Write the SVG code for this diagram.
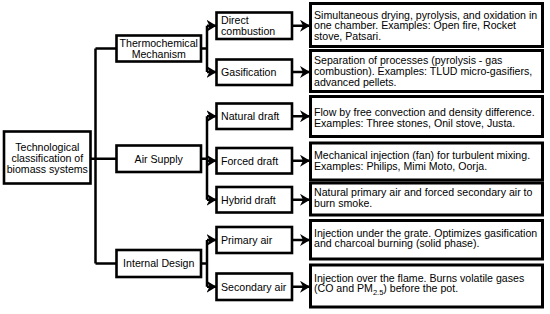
<svg xmlns="http://www.w3.org/2000/svg" width="550" height="314" viewBox="0 0 550 314">
<style>
text{font-family:"Liberation Sans",Arial,sans-serif;font-size:10.6px;fill:#000}
.box{fill:#fff;stroke:#000;stroke-width:2.6}
.dbox{fill:#fff;stroke:#000;stroke-width:3}
.c{text-anchor:middle}
.ln{fill:none;stroke:#000;stroke-width:2.5}
</style>
<defs>
<marker id="ar" markerUnits="userSpaceOnUse" markerWidth="10" markerHeight="12" viewBox="0 0 10 12" refX="10" refY="6" orient="auto">
<path d="M0,0 L10,6 L0,12 L3,6 Z" fill="#000"/>
</marker>
</defs>
<rect width="550" height="314" fill="#fff"/>
<g id="connectors">
<path class="ln" d="M90.5,158.75 H95.5 M95.5,48.5 V263.5 M95.5,48.5 H116.5 M95.5,158.75 H116.5 M95.5,263.5 H116.5"/>
<path class="ln" d="M201,48.5 H207 M207,25.75 V72 M201,158.75 H207 M207,116.25 V199.75 M201,263.5 H207 M207,240 V286.75"/>
<g marker-end="url(#ar)" class="ln">
<path d="M207,25.75 H216.5"/>
<path d="M207,72 H216.5"/>
<path d="M207,116.25 H216.5"/>
<path d="M207,160.75 H216.5"/>
<path d="M207,199.75 H216.5"/>
<path d="M207,240 H216.5"/>
<path d="M207,286.75 H216.5"/>
<path d="M292,25.75 H310"/>
<path d="M292,72 H310"/>
<path d="M292,116.25 H310"/>
<path d="M292,160.75 H310"/>
<path d="M292,199.75 H310"/>
<path d="M292,240 H310"/>
<path d="M292,286.75 H310"/>
</g>
</g>
<g id="root">
<rect class="box" x="4" y="131.5" width="86.5" height="52"/>
<text class="c" x="47.3" y="150.5">Technological</text>
<text class="c" x="47.3" y="161.8">classification of</text>
<text class="c" x="47.3" y="173.1">biomass systems</text>
</g>
<g id="thermochemical">
<rect class="box" x="116.5" y="35.5" width="84.5" height="26"/>
<text class="c" x="158.75" y="47">Thermochemical</text>
<text class="c" x="158.75" y="57.5">Mechanism</text>
</g>
<g id="airsupply">
<rect class="box" x="116.5" y="145.5" width="84.5" height="26.5"/>
<text class="c" x="158.75" y="162.6">Air Supply</text>
</g>
<g id="internaldesign">
<rect class="box" x="116.5" y="250" width="84.5" height="27"/>
<text class="c" x="158.75" y="267.3">Internal Design</text>
</g>
<g id="direct">
<rect class="box" x="216.5" y="12.5" width="75.5" height="26.5"/>
<text x="221" y="23.5">Direct</text>
<text x="221" y="34.6">combustion</text>
</g>
<g id="gasification">
<rect class="box" x="216.5" y="59.5" width="75.5" height="25.5"/>
<text x="221" y="75.8">Gasification</text>
</g>
<g id="natural">
<rect class="box" x="216.5" y="103.5" width="75.5" height="25.5"/>
<text x="221" y="120">Natural draft</text>
</g>
<g id="forced">
<rect class="box" x="216.5" y="148" width="75.5" height="25.5"/>
<text x="221" y="164.5">Forced draft</text>
</g>
<g id="hybrid">
<rect class="box" x="216.5" y="187" width="75.5" height="25.5"/>
<text x="221" y="203.5">Hybrid draft</text>
</g>
<g id="primary">
<rect class="box" x="216.5" y="227" width="75.5" height="26"/>
<text x="221" y="243.8">Primary air</text>
</g>
<g id="secondary">
<rect class="box" x="216.5" y="273.5" width="75.5" height="26.5"/>
<text x="221" y="290.5">Secondary air</text>
</g>
<g id="desc1">
<rect class="dbox" x="310.5" y="3.5" width="232" height="43"/>
<text x="314" y="18.5">Simultaneous drying, pyrolysis, and oxidation in</text>
<text x="314" y="29.3">one chamber. Examples: Open fire, Rocket</text>
<text x="314" y="40.1">stove, Patsari.</text>
</g>
<g id="desc2">
<rect class="dbox" x="310.5" y="50.5" width="232" height="41"/>
<text x="314" y="64">Separation of processes (pyrolysis - gas</text>
<text x="314" y="74.8">combustion). Examples: TLUD micro-gasifiers,</text>
<text x="314" y="85.6">advanced pellets.</text>
</g>
<g id="desc3">
<rect class="dbox" x="310.5" y="96.5" width="232" height="40"/>
<text x="314" y="116.2">Flow by free convection and density difference.</text>
<text x="314" y="127">Examples: Three stones, Onil stove, Justa.</text>
</g>
<g id="desc4">
<rect class="dbox" x="310.5" y="143" width="232" height="37"/>
<text x="314" y="159.3">Mechanical injection (fan) for turbulent mixing.</text>
<text x="314" y="170.1">Examples: Philips, Mimi Moto, Oorja.</text>
</g>
<g id="desc5">
<rect class="dbox" x="310.5" y="183" width="232" height="32"/>
<text x="314" y="196">Natural primary air and forced secondary air to</text>
<text x="314" y="206.8">burn smoke.</text>
</g>
<g id="desc6">
<rect class="dbox" x="310.5" y="220.5" width="232" height="38.5"/>
<text x="314" y="236.5">Injection under the grate. Optimizes gasification</text>
<text x="314" y="247.3">and charcoal burning (solid phase).</text>
</g>
<g id="desc7">
<rect class="dbox" x="310.5" y="265" width="232" height="42"/>
<text x="314" y="281.5">Injection over the flame. Burns volatile gases</text>
<text x="314" y="292.3">(CO and PM<tspan font-size="7.5" dy="2.5">2.5</tspan><tspan dy="-2.5">) before the pot.</tspan></text>
</g>
</svg>
